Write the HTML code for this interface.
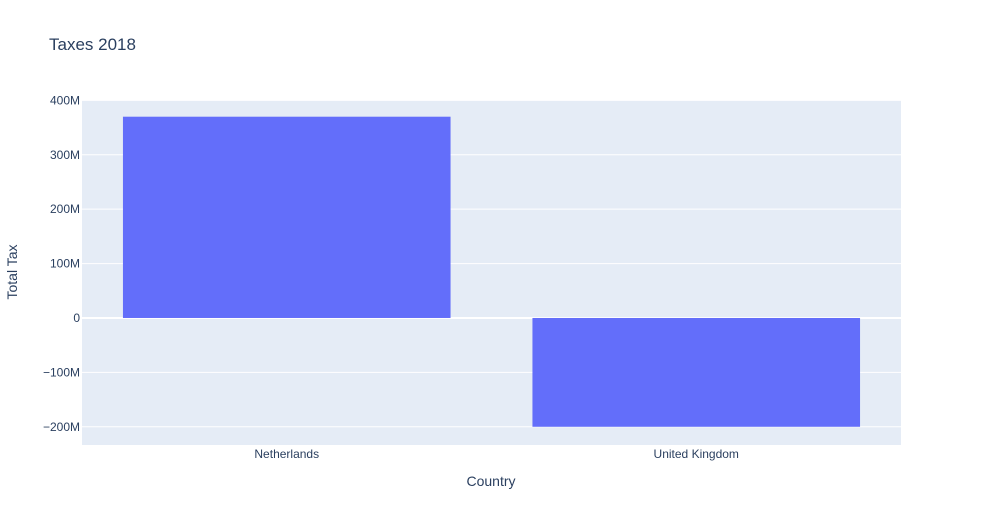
<!DOCTYPE html>
<html><head><meta charset="utf-8"><style>
body{margin:0;background:#fff;font-family:"Liberation Sans",sans-serif;}
svg text{font-family:"Liberation Sans",sans-serif;fill:#2a3f5f;}
</style></head><body>
<svg id="chart" width="981" height="525">
<text x="49" y="50" font-size="17">Taxes 2018</text>
<rect x="82" y="100" width="819" height="345" fill="#e5ecf6"/>
<g id="grid"></g>
<g id="bars"></g>
<g id="ticks"></g>
<text x="491" y="486" font-size="14" text-anchor="middle">Country</text>
<text x="17" y="272" font-size="14" text-anchor="middle" transform="rotate(-90 17 272)">Total Tax</text>
</svg>
<script>
const categories = ["Netherlands", "United Kingdom"];
const values = [370e6, -200e6];
const yTicks = [-200e6, -100e6, 0, 100e6, 200e6, 300e6, 400e6];
const yTickLabels = ["−200M", "−100M", "0", "100M", "200M", "300M", "400M"];

const NS = "http://www.w3.org/2000/svg";
const plotL = 82, plotR = 901, plotT = 100, plotB = 445;
const yMin = -233.5e6, yMax = 400.7e6;
function y(v){ return plotB - (v - yMin) / (yMax - yMin) * (plotB - plotT); }
const band = (plotR - plotL) / categories.length;
function xc(i){ return plotL + band * (i + 0.5); }

const grid = document.getElementById('grid');
const ticks = document.getElementById('ticks');
yTicks.forEach((t, i) => {
  const ln = document.createElementNS(NS, 'line');
  ln.setAttribute('x1', plotL); ln.setAttribute('x2', plotR);
  ln.setAttribute('y1', y(t)); ln.setAttribute('y2', y(t));
  ln.setAttribute('stroke', '#fff'); ln.setAttribute('stroke-width', t === 0 ? 2 : 1);
  
  
  grid.appendChild(ln);
  const tx = document.createElementNS(NS, 'text');
  tx.setAttribute('x', plotL - 2); tx.setAttribute('y', y(t) + 4);
  tx.setAttribute('text-anchor', 'end'); tx.setAttribute('font-size', '12');
  tx.textContent = yTickLabels[i];
  
  
  ticks.appendChild(tx);
});
const bars = document.getElementById('bars');
categories.forEach((c, i) => {
  const v = values[i];
  const r = document.createElementNS(NS, 'rect');
  const w = band * 0.8;
  r.setAttribute('x', xc(i) - w / 2); r.setAttribute('width', w);
  r.setAttribute('y', Math.min(y(v), y(0))); r.setAttribute('height', Math.abs(y(v) - y(0)));
  r.setAttribute('fill', '#636efa');
  
  
  bars.appendChild(r);
  const tx = document.createElementNS(NS, 'text');
  tx.setAttribute('x', xc(i)); tx.setAttribute('y', plotB + 13);
  tx.setAttribute('text-anchor', 'middle'); tx.setAttribute('font-size', '12');
  tx.textContent = c;
  
  
  ticks.appendChild(tx);
});
</script>
</body></html>
